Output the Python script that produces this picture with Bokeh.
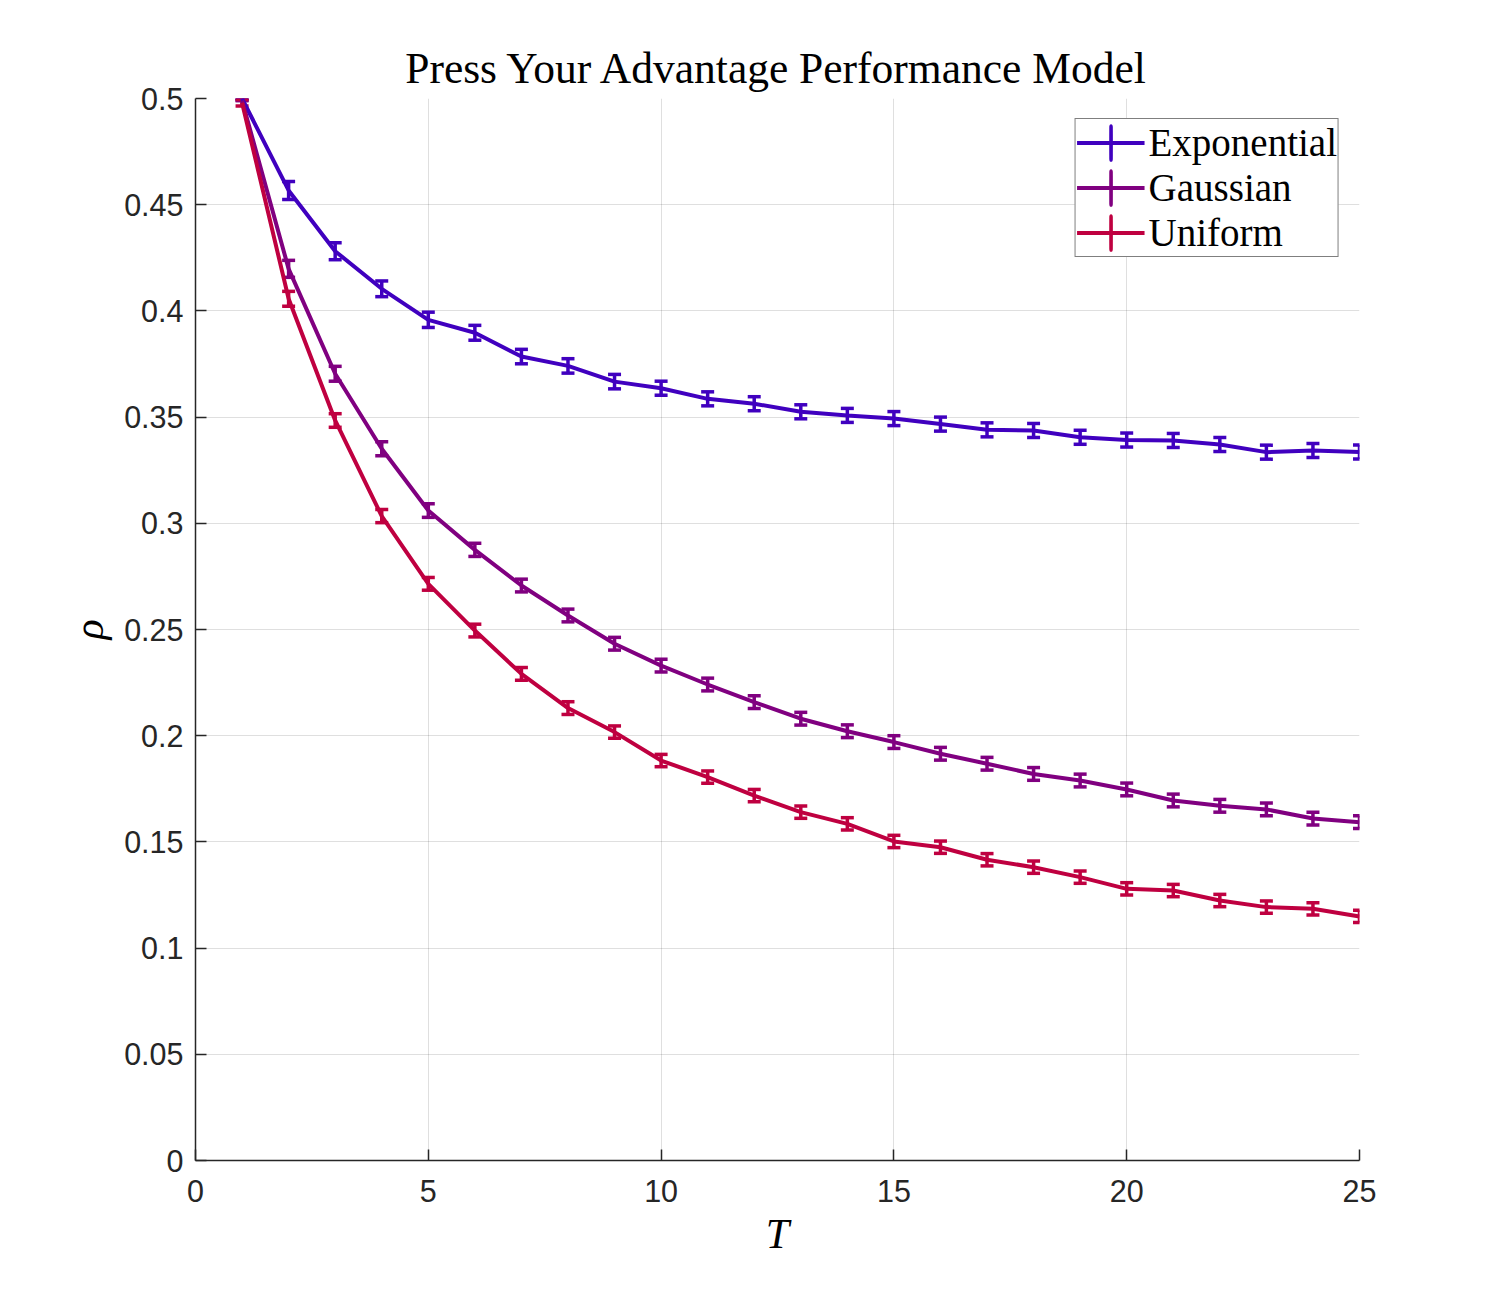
from bokeh.plotting import figure
from bokeh.models import (ColumnDataSource, Whisker, TeeHead, Legend, LegendItem,
                          FixedTicker, Range1d, Ellipse)
from bokeh.embed import file_html
from bokeh.resources import INLINE

T = list(range(1, 26))
exp_rho = [0.500, 0.4567, 0.4281, 0.4104, 0.3958, 0.3897, 0.3785, 0.3741, 0.3667, 0.3636,
           0.3586, 0.3563, 0.3525, 0.3508, 0.3493, 0.3467, 0.3440, 0.3437, 0.3405, 0.3392,
           0.3390, 0.3371, 0.3335, 0.3343, 0.3336]
exp_err = [0.0, 0.0042, 0.0040, 0.0037, 0.0036, 0.0035, 0.0034, 0.0034, 0.0034, 0.0033,
           0.0033, 0.0033, 0.0033, 0.0033, 0.0033, 0.0033, 0.0033, 0.0033, 0.0033, 0.0033,
           0.0033, 0.0033, 0.0033, 0.0033, 0.0033]
gau_rho = [0.499, 0.4198, 0.3704, 0.3351, 0.3060, 0.2875, 0.2707, 0.2566, 0.2433, 0.2330,
           0.2241, 0.2158, 0.2080, 0.2021, 0.1970, 0.1915, 0.1868, 0.1820, 0.1789, 0.1747,
           0.1695, 0.1670, 0.1653, 0.1610, 0.1593]
gau_err = [0.0, 0.0040, 0.0035, 0.0033, 0.0032, 0.0031, 0.0030, 0.0030, 0.0030, 0.0030,
           0.0030, 0.0030, 0.0030, 0.0030, 0.0030, 0.0030, 0.0030, 0.0030, 0.0030, 0.0030,
           0.0030, 0.0030, 0.0030, 0.0030, 0.0030]
uni_rho = [0.498, 0.4057, 0.3484, 0.3034, 0.2715, 0.2495, 0.2291, 0.2130, 0.2017, 0.1883,
           0.1805, 0.1718, 0.1640, 0.1585, 0.1502, 0.1475, 0.1416, 0.1381, 0.1334, 0.1279,
           0.1271, 0.1224, 0.1193, 0.1185, 0.1149]
uni_err = [0.0015, 0.0035, 0.0032, 0.0031, 0.0030, 0.0030, 0.0030, 0.0030, 0.0029, 0.0029,
           0.0029, 0.0029, 0.0029, 0.0029, 0.0029, 0.0029, 0.0029, 0.0029, 0.0029, 0.0029,
           0.0029, 0.0029, 0.0029, 0.0029, 0.0029]

series_names = ["Exponential", "Gaussian", "Uniform"]
series_colors = ["#4000BF", "#800080", "#BF0040"]

x_ticks = [0, 5, 10, 15, 20, 25]
y_ticks = [0, 0.05, 0.1, 0.15, 0.2, 0.25, 0.3, 0.35, 0.4, 0.45, 0.5]
y_tick_labels = ["0", "0.05", "0.1", "0.15", "0.2", "0.25", "0.3", "0.35", "0.4", "0.45", "0.5"]

p = figure(width=1488, height=1298, output_backend="svg", toolbar_location=None,
           x_range=Range1d(0, 25), y_range=Range1d(0, 0.5),
           min_border_left=195, min_border_right=129, min_border_top=98, min_border_bottom=138,
           title="Press Your Advantage Performance Model")
p.outline_line_color = None
p.background_fill_color = "white"

p.title.align = "center"
p.title.text_font = "Liberation Serif"
p.title.text_font_size = "43.5px"
p.title.text_font_style = "normal"
p.title.text_color = "black"
p.title.standoff = 14

for ax in (p.xaxis[0], p.yaxis[0]):
    ax.axis_line_color = "#262626"
    ax.axis_line_width = 1.5
    ax.major_tick_in = 11
    ax.major_tick_out = 0
    ax.major_tick_line_color = "#262626"
    ax.major_tick_line_width = 1.5
    ax.minor_tick_line_color = None
    ax.major_label_text_font = "Liberation Sans"
    ax.major_label_text_font_size = "30.5px"
    ax.major_label_text_color = "#262626"
    ax.axis_label_text_font = "Liberation Serif"
    ax.axis_label_text_font_style = "italic"
    ax.axis_label_text_font_size = "42px"
    ax.axis_label_text_color = "black"

p.xaxis[0].ticker = FixedTicker(ticks=x_ticks)
p.yaxis[0].ticker = FixedTicker(ticks=y_ticks)
p.yaxis[0].major_label_overrides = {t: l for t, l in zip(y_ticks, y_tick_labels)}
p.xaxis[0].major_label_standoff = 19
p.yaxis[0].major_label_standoff = 12
p.xaxis[0].axis_label = "T"
p.yaxis[0].axis_label = "ρ"
p.xaxis[0].axis_label_standoff = 6
p.yaxis[0].axis_label_standoff = 9

p.xgrid.ticker = FixedTicker(ticks=x_ticks)
p.ygrid.ticker = FixedTicker(ticks=y_ticks)
for g in (p.xgrid[0], p.ygrid[0]):
    g.grid_line_color = "#262626"
    g.grid_line_alpha = 0.15
    g.grid_line_width = 1

items = []
for name, color, rho, err in zip(series_names, series_colors,
                                 [exp_rho, gau_rho, uni_rho], [exp_err, gau_err, uni_err]):
    src = ColumnDataSource(data=dict(
        T=T, rho=rho,
        lo=[r - e for r, e in zip(rho, err)],
        hi=[r + e for r, e in zip(rho, err)]))
    ln = p.line("T", "rho", source=src, line_color=color, line_width=4)
    wh = Whisker(source=src, base="T", lower="lo", upper="hi", dimension="height",
                 line_color=color, line_width=3.5,
                 upper_head=TeeHead(size=13, line_color=color, line_width=3.5),
                 lower_head=TeeHead(size=13, line_color=color, line_width=3.5))
    p.add_layout(wh)
    # legend-only vertical error-bar glyph: drawn in the legend, hidden in the plot
    lsrc = ColumnDataSource(data=dict(T=T[:1], rho=rho[:1]))
    lsrc.selected.indices = [0]
    bar = p.ellipse("T", "rho", source=lsrc, width=0.2, height=40,
                    width_units="screen", height_units="screen",
                    fill_color=None, line_color=color, line_width=3.5)
    hidden = Ellipse(x="T", y="rho", width=0.2, height=40,
                     width_units="screen", height_units="screen",
                     fill_alpha=0, line_alpha=0)
    bar.selection_glyph = hidden
    bar.nonselection_glyph = hidden
    items.append(LegendItem(label=name, renderers=[ln, bar]))

legend = Legend(items=items, location="top_right", margin=20)
legend.border_line_color = "black"
legend.border_line_width = 1.2
legend.background_fill_color = "white"
legend.background_fill_alpha = 1
legend.label_text_font = "Liberation Serif"
legend.label_text_font_size = "39px"
legend.label_text_color = "black"
legend.glyph_width = 68
legend.glyph_height = 43
legend.label_height = 43
legend.label_standoff = 4
legend.spacing = 0
legend.padding = 1
legend.click_policy = "none"
p.add_layout(legend, "center")

open("out.html", "w").write(file_html(p, INLINE))
